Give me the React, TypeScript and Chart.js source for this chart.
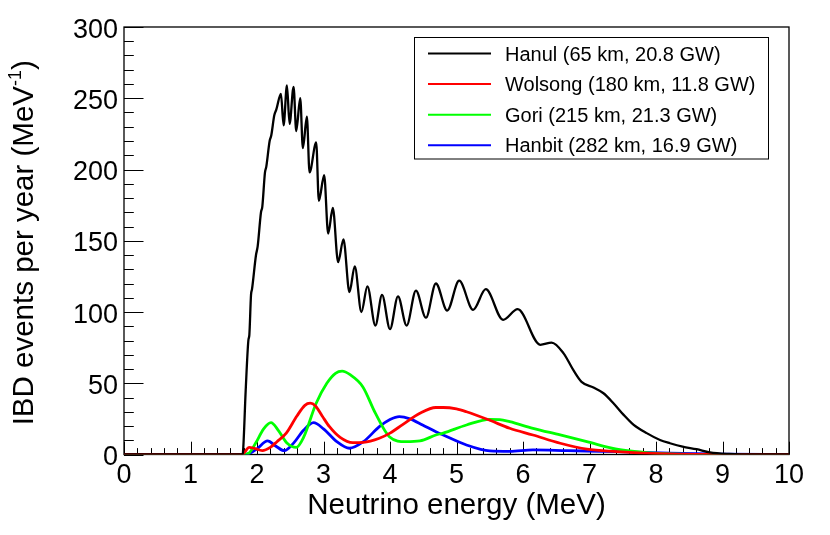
import React, { useEffect, useRef } from "react";
import { Chart, registerables } from "chart.js";

Chart.register(...registerables);

// [energy (MeV), IBD events per year per MeV]
const hanul: [number, number][] = [
  [0, 0], [1.78, 0], [1.79, 2], [1.83, 45], [1.87, 80], [1.885, 84], [1.91, 112], [1.925, 116],
  [1.985, 140], [2.01, 146], [2.06, 170], [2.08, 174], [2.12, 198], [2.14, 202], [2.19, 220],
  [2.215, 224], [2.26, 238], [2.29, 242], [2.36, 253], [2.4, 231], [2.45, 259], [2.49, 232],
  [2.55, 258], [2.59, 227], [2.65, 250], [2.69, 215], [2.75, 237], [2.79, 198], [2.89, 219],
  [2.93, 178], [3.01, 196], [3.07, 155], [3.14, 173], [3.22, 135], [3.3, 151], [3.39, 114],
  [3.47, 132], [3.57, 100], [3.66, 118], [3.78, 90.5], [3.88, 112], [4.0, 88], [4.12, 111],
  [4.25, 90.5], [4.39, 115], [4.54, 96], [4.69, 120], [4.86, 101], [5.04, 122], [5.25, 101.5],
  [5.44, 116], [5.7, 94.5], [5.92, 102], [6.26, 77], [6.43, 78.5], [6.61, 71], [6.76, 59],
  [6.88, 51], [7.06, 47], [7.21, 43], [7.36, 36], [7.51, 28], [7.66, 21], [7.86, 15],
  [8.06, 10.2], [8.21, 7.9], [8.4, 5.5], [8.61, 3.7], [8.81, 1.5], [9.1, 0.4], [9.5, 0], [10, 0],
];

const wolsong: [number, number][] = [
  [0, 0], [1.78, 0], [1.82, 2], [1.88, 5], [1.95, 4.5], [2.08, 2.7], [2.2, 5], [2.3, 9],
  [2.44, 15], [2.6, 27], [2.72, 34.5], [2.8, 36], [2.88, 34], [2.98, 27], [3.09, 19.5],
  [3.25, 12], [3.44, 8.3], [3.6, 8.5], [3.84, 11.4], [4.0, 15], [4.19, 21], [4.45, 29],
  [4.69, 33], [4.8, 33], [5.0, 32], [5.15, 30], [5.5, 24], [5.8, 18.4], [6.15, 13.7],
  [6.56, 7.9], [6.96, 3.7], [7.41, 2], [7.8, 1], [8.3, 0.3], [9, 0], [10, 0],
];

const gori: [number, number][] = [
  [0, 0], [1.8, 0], [1.88, 1], [1.98, 8], [2.1, 18], [2.21, 22.3], [2.32, 17], [2.45, 8],
  [2.59, 5], [2.7, 12], [2.89, 36], [3.05, 50], [3.18, 57], [3.28, 58.5], [3.4, 56],
  [3.59, 47.6], [3.78, 29], [3.99, 12.5], [4.24, 9], [4.45, 9.5], [4.69, 13.7], [4.8, 15],
  [5.15, 20.7], [5.5, 24.7], [5.65, 24.5], [5.8, 23], [6.15, 18.4], [6.56, 13.7], [6.96, 9],
  [7.41, 3.7], [7.81, 1.5], [8.2, 0.5], [9, 0], [10, 0],
];

const hanbit: [number, number][] = [
  [0, 0], [1.8, 0], [1.9, 1], [2.0, 4], [2.16, 9.5], [2.28, 6], [2.41, 2.7], [2.55, 8],
  [2.7, 17], [2.85, 22.3], [3.0, 18], [3.2, 9], [3.39, 4.4], [3.6, 9], [3.84, 19.5],
  [4.0, 24.5], [4.14, 26.6], [4.3, 25], [4.49, 20.7], [4.69, 16], [4.8, 13.7], [5.15, 6.7],
  [5.5, 2.5], [5.8, 2.2], [6.15, 3.2], [6.66, 2.7], [7.41, 2], [8.2, 1], [9, 0.3], [10, 0],
];

const seriesLabels = [
  "Hanul (65 km, 20.8 GW)",
  "Wolsong (180 km, 11.8 GW)",
  "Gori (215 km, 21.3 GW)",
  "Hanbit (282 km, 16.9 GW)",
];
const seriesColors = ["#000000", "#ff0000", "#00ff00", "#0000ff"];

const xTickLabels = [0, 1, 2, 3, 4, 5, 6, 7, 8, 9, 10];
const yTickLabels = [0, 50, 100, 150, 200, 250, 300];

const FONT = '"Liberation Sans", Arial, Helvetica, sans-serif';

const framePlugin = {
  id: "rootFrame",
  beforeDatasetsDraw(chart: any) {
    const ctx = chart.ctx as CanvasRenderingContext2D;
    const ca = chart.chartArea;
    const xs = chart.scales.x;
    const ys = chart.scales.y;
    ctx.save();
    ctx.strokeStyle = "#000";
    ctx.lineWidth = 1.3;
    ctx.strokeRect(ca.left, ca.top, ca.right - ca.left, ca.bottom - ca.top);
    ctx.lineWidth = 1;
    for (let i = 0; i <= 30; i++) {
      const v = i * 10;
      const py = Math.round(ys.getPixelForValue(v)) + 0.5;
      const len = v % 50 === 0 ? 19.5 : 9.8;
      ctx.beginPath();
      ctx.moveTo(ca.left, py);
      ctx.lineTo(ca.left + len, py);
      ctx.stroke();
    }
    for (let i = 0; i <= 50; i++) {
      const v = i * 0.2;
      const px = Math.round(xs.getPixelForValue(v)) + 0.5;
      const len = i % 5 === 0 ? 12.8 : 6.4;
      ctx.beginPath();
      ctx.moveTo(px, ca.bottom);
      ctx.lineTo(px, ca.bottom - len);
      ctx.stroke();
    }
    ctx.fillStyle = "#000";
    ctx.font = `27px ${FONT}`;
    ctx.textAlign = "right";
    ctx.textBaseline = "alphabetic";
    for (const v of yTickLabels) {
      ctx.fillText(String(v), ca.left - 6, ys.getPixelForValue(v) + 10.5);
    }
    ctx.textAlign = "center";
    for (const v of xTickLabels) {
      ctx.fillText(String(v), xs.getPixelForValue(v), 483);
    }
    ctx.font = `29.5px ${FONT}`;
    ctx.fillText("Neutrino energy (MeV)", (ca.left + ca.right) / 2, 514);
    const main = "IBD events per year (MeV";
    const sup = "-1";
    const close = ")";
    ctx.font = `29.5px ${FONT}`;
    const wMain = ctx.measureText(main).width;
    const wClose = ctx.measureText(close).width;
    ctx.font = `18px ${FONT}`;
    const wSup = ctx.measureText(sup).width;
    const total = wMain + wSup + wClose;
    ctx.translate(33, (ca.top + ca.bottom) / 2 + 2);
    ctx.rotate(-Math.PI / 2);
    ctx.textAlign = "left";
    let x0 = -total / 2;
    ctx.font = `29.5px ${FONT}`;
    ctx.fillText(main, x0, 0);
    x0 += wMain;
    ctx.font = `18px ${FONT}`;
    ctx.fillText(sup, x0, -12);
    x0 += wSup;
    ctx.font = `29.5px ${FONT}`;
    ctx.fillText(close, x0, 0);
    ctx.restore();
  },
};

const legendPlugin = {
  id: "rootLegend",
  afterDraw(chart: any) {
    const ctx = chart.ctx as CanvasRenderingContext2D;
    ctx.save();
    ctx.fillStyle = "#fff";
    ctx.fillRect(414.5, 37.5, 354, 121.5);
    ctx.strokeStyle = "#000";
    ctx.lineWidth = 1;
    ctx.strokeRect(414.5, 37.5, 354, 121.5);
    ctx.font = `20px ${FONT}`;
    ctx.textAlign = "left";
    ctx.textBaseline = "alphabetic";
    chart.data.datasets.forEach((ds: any, i: number) => {
      const y = 53.5 + i * 30.6;
      ctx.strokeStyle = ds.borderColor;
      ctx.lineWidth = 2;
      ctx.beginPath();
      ctx.moveTo(428, y);
      ctx.lineTo(491, y);
      ctx.stroke();
      ctx.fillStyle = "#000";
      ctx.fillText(ds.label, 505, y + 7);
    });
    ctx.restore();
  },
};

export default function App() {
  const ref = useRef<HTMLCanvasElement>(null);
  useEffect(() => {
    if (!ref.current) return;
    const all = [hanul, wolsong, gori, hanbit];
    const chart = new Chart(ref.current, {
      type: "line",
      data: {
        datasets: all.map((s, i) => ({
          label: seriesLabels[i],
          data: s.map(([x, y]) => ({ x, y })),
          borderColor: seriesColors[i],
          backgroundColor: seriesColors[i],
          borderWidth: i === 0 ? 2.3 : 2.8,
          pointRadius: 0,
          fill: false,
          cubicInterpolationMode: "monotone" as const,
          tension: 0.4,
        })),
      },
      options: {
        responsive: false,
        animation: false,
        devicePixelRatio: 1,
        layout: { padding: { left: 124, right: 41, top: 27, bottom: 80.5 } },
        scales: {
          x: { type: "linear", min: 0, max: 10, display: false },
          y: { type: "linear", min: 0, max: 300, display: false },
        },
        plugins: {
          legend: { display: false },
          tooltip: { enabled: false },
        },
      },
      plugins: [framePlugin, legendPlugin],
    });
    return () => chart.destroy();
  }, []);
  return (
    <div style={{ position: "fixed", left: 0, top: 0, width: 830, height: 535, background: "#fff" }}>
      <canvas ref={ref} width={830} height={535} style={{ width: 830, height: 535, display: "block" }} />
    </div>
  );
}
